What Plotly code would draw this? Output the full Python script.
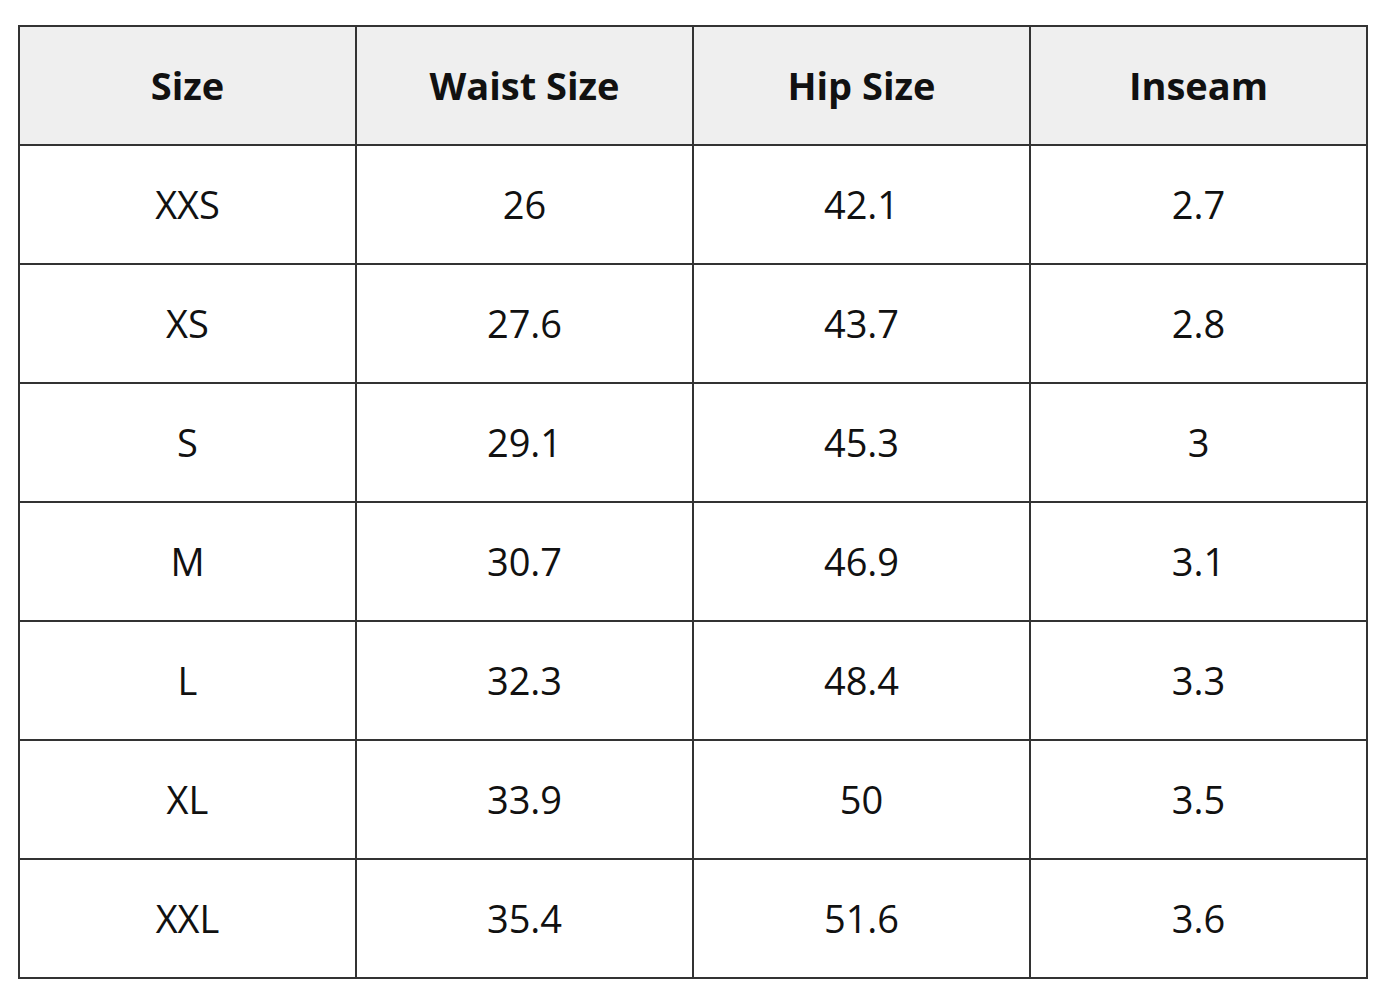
import plotly.graph_objects as go

headers = ["Size", "Waist Size", "Hip Size", "Inseam"]
sizes = ["XXS", "XS", "S", "M", "L", "XL", "XXL"]
waist = ["26", "27.6", "29.1", "30.7", "32.3", "33.9", "35.4"]
hip = ["42.1", "43.7", "45.3", "46.9", "48.4", "50", "51.6"]
inseam = ["2.7", "2.8", "3", "3.1", "3.3", "3.5", "3.6"]

def pad(v):
    return "<span style='font-size:16px'> </span><br>" + v

fig = go.Figure(go.Table(
    domain=dict(x=[11/1400, 1359/1400], y=[0, 982/1000]),
    columnwidth=[1, 1, 1, 1],
    header=dict(values=[pad(f"<b>{h}</b>") for h in headers],
                fill_color="#efefef", line=dict(color="#333333", width=1.5),
                align="center", height=119,
                font=dict(family="Open Sans", size=38, color="#111111")),
    cells=dict(values=[[pad(v) for v in col] for col in [sizes, waist, hip, inseam]],
               fill_color="white", line=dict(color="#333333", width=1.5),
               align="center", height=119,
               font=dict(family="Open Sans", size=38, color="#111111")),
))
fig.update_layout(width=1400, height=1000, margin=dict(l=0, r=0, t=0, b=0),
                  paper_bgcolor="white")
fig.write_html("out.html")
